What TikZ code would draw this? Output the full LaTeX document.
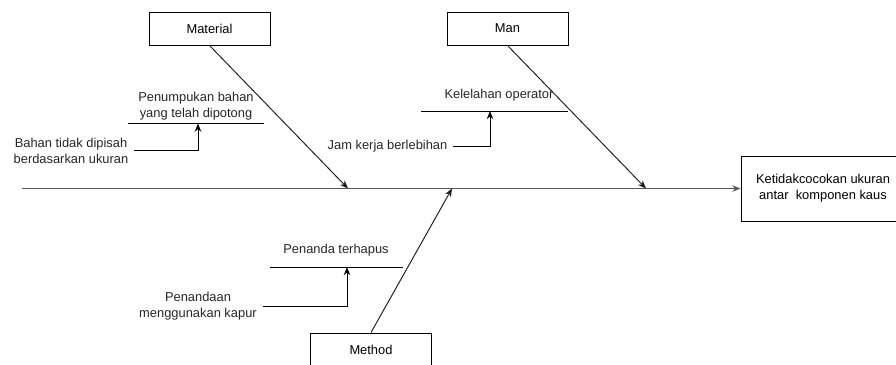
\documentclass[tikz,border=0pt]{standalone}
\usepackage{fontspec}
\setmainfont{Liberation Sans}
\usetikzlibrary{arrows.meta}

\begin{document}
\begin{tikzpicture}[x=0.03cm,y=-0.03cm,
	font=\fontsize{11}{13.7}\selectfont,
	causebox/.style={draw,thick,minimum width=3.63cm,minimum height=0.99cm,inner sep=0pt},
	effectbox/.style={draw,thick,minimum width=4.92cm,minimum height=1.95cm,align=center,inner sep=0pt},
	label/.style={align=center,inner xsep=5pt,text=black!85},
	spine/.style={draw=black!65,line width=1.3pt,-{Stealth[length=7pt,width=5.5pt]}},
	bone/.style={draw=black!90,line width=0.8pt,-{Stealth[length=7pt,width=5.5pt]}},
	feed/.style={line width=0.8pt,-{Stealth[length=7pt,width=5.5pt]}},
	under/.style={line width=0.8pt}]

	\useasboundingbox (0,0) rectangle (896,365);
	\clip (0,0) rectangle (896,365);

	% kepala dan tulang utama
	\node[effectbox] (effect) at (823,188.5) {Ketidakcocokan ukuran\\antar\ \ komponen kaus};
	\coordinate (tail) at (22,188.5);
	\draw[spine] (tail) -- (effect.west);

	\node[causebox] (material) at (209.5,28.5) {Material};
	\node[causebox] (man) at (507.5,28.5) {Man};
	\node[causebox] (method) at (371,349.5) {Method};

	\coordinate (j1) at (348,188.5);
	\coordinate (j2) at (646,188.5);
	\coordinate (j3) at (452,188.5);
	\draw[bone] (material.south) -- (j1);
	\draw[bone] (man.south) -- (j2);
	\draw[bone] (method.north) -- (j3);

	% material
	\node[label] (pnb) at (196,106.5) {Penumpukan bahan\\yang telah dipotong};
	\coordinate (u1a) at (128,123.5);
	\coordinate (u1b) at (264,123.5);
	\coordinate (u1t) at (198,123.5);
	\draw[under] (u1a) -- (u1b);
	\node[label] (bahan) at (71,150.5) {Bahan tidak dipisah\\berdasarkan ukuran};
	\draw[feed] (bahan.east) -| (u1t);

	% man
	\node[label] (kel) at (499,95) {Kelelahan operator};
	\coordinate (u2a) at (421,111);
	\coordinate (u2b) at (568,111);
	\coordinate (u2t) at (490,111);
	\draw[under] (u2a) -- (u2b);
	\node[label] (jam) at (387.5,146.5) {Jam kerja berlebihan};
	\draw[feed] (jam.east) -| (u2t);

	% method
	\node[label] (pen) at (336,250) {Penanda terhapus};
	\coordinate (u3a) at (270,267);
	\coordinate (u3b) at (403,267);
	\coordinate (u3t) at (347,267);
	\draw[under] (u3a) -- (u3b);
	\node[label] (pkp) at (198,306) {Penandaan\\menggunakan kapur};
	\draw[feed] (pkp.east) -| (u3t);

\end{tikzpicture}
\end{document}
